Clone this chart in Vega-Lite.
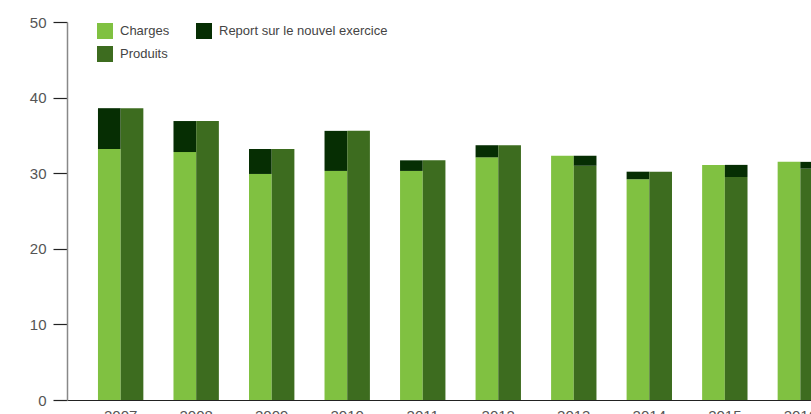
{
  "$schema": "https://vega.github.io/schema/vega-lite/v6.json",
  "autosize": "none",
  "width": 744,
  "height": 378,
  "padding": {"left": 67, "top": 22, "right": 0, "bottom": 14},
  "background": "white",
  "config": {
    "font": "Liberation Sans, Arial, sans-serif",
    "view": {"stroke": null}
  },
  "data": {
    "values": [
      {"year": "2007", "bar": "Charges", "serie": "Charges", "value": 33.2, "ord": 1},
      {"year": "2007", "bar": "Charges", "serie": "Report sur le nouvel exercice", "value": 5.4, "ord": 2},
      {"year": "2007", "bar": "Produits", "serie": "Produits", "value": 38.6, "ord": 1},
      {"year": "2008", "bar": "Charges", "serie": "Charges", "value": 32.8, "ord": 1},
      {"year": "2008", "bar": "Charges", "serie": "Report sur le nouvel exercice", "value": 4.1, "ord": 2},
      {"year": "2008", "bar": "Produits", "serie": "Produits", "value": 36.9, "ord": 1},
      {"year": "2009", "bar": "Charges", "serie": "Charges", "value": 29.9, "ord": 1},
      {"year": "2009", "bar": "Charges", "serie": "Report sur le nouvel exercice", "value": 3.3, "ord": 2},
      {"year": "2009", "bar": "Produits", "serie": "Produits", "value": 33.2, "ord": 1},
      {"year": "2010", "bar": "Charges", "serie": "Charges", "value": 30.3, "ord": 1},
      {"year": "2010", "bar": "Charges", "serie": "Report sur le nouvel exercice", "value": 5.3, "ord": 2},
      {"year": "2010", "bar": "Produits", "serie": "Produits", "value": 35.6, "ord": 1},
      {"year": "2011", "bar": "Charges", "serie": "Charges", "value": 30.3, "ord": 1},
      {"year": "2011", "bar": "Charges", "serie": "Report sur le nouvel exercice", "value": 1.4, "ord": 2},
      {"year": "2011", "bar": "Produits", "serie": "Produits", "value": 31.7, "ord": 1},
      {"year": "2012", "bar": "Charges", "serie": "Charges", "value": 32.1, "ord": 1},
      {"year": "2012", "bar": "Charges", "serie": "Report sur le nouvel exercice", "value": 1.6, "ord": 2},
      {"year": "2012", "bar": "Produits", "serie": "Produits", "value": 33.7, "ord": 1},
      {"year": "2013", "bar": "Charges", "serie": "Charges", "value": 32.3, "ord": 1},
      {"year": "2013", "bar": "Produits", "serie": "Produits", "value": 31.0, "ord": 1},
      {"year": "2013", "bar": "Produits", "serie": "Report sur le nouvel exercice", "value": 1.3, "ord": 2},
      {"year": "2014", "bar": "Charges", "serie": "Charges", "value": 29.2, "ord": 1},
      {"year": "2014", "bar": "Charges", "serie": "Report sur le nouvel exercice", "value": 1.0, "ord": 2},
      {"year": "2014", "bar": "Produits", "serie": "Produits", "value": 30.2, "ord": 1},
      {"year": "2015", "bar": "Charges", "serie": "Charges", "value": 31.1, "ord": 1},
      {"year": "2015", "bar": "Produits", "serie": "Produits", "value": 29.5, "ord": 1},
      {"year": "2015", "bar": "Produits", "serie": "Report sur le nouvel exercice", "value": 1.6, "ord": 2},
      {"year": "2016", "bar": "Charges", "serie": "Charges", "value": 31.5, "ord": 1},
      {"year": "2016", "bar": "Produits", "serie": "Produits", "value": 30.6, "ord": 1},
      {"year": "2016", "bar": "Produits", "serie": "Report sur le nouvel exercice", "value": 0.9, "ord": 2}
    ]
  },
  "mark": {"type": "bar", "clip": true},
  "encoding": {
    "x": {
      "field": "year",
      "type": "nominal",
      "scale": {"range": [0, 787], "paddingInner": 0.399, "paddingOuter": 0.41},
      "axis": {
        "title": null,
        "labelAngle": 0,
        "ticks": false,
        "labelPadding": 8,
        "labelFontSize": 15,
        "labelColor": "#555555",
        "domainColor": "#222222",
        "domainWidth": 1.2
      }
    },
    "xOffset": {
      "field": "bar",
      "type": "nominal",
      "scale": {"paddingInner": 0, "paddingOuter": 0}
    },
    "y": {
      "field": "value",
      "type": "quantitative",
      "stack": "zero",
      "scale": {"domain": [0, 50], "nice": false},
      "axis": {
        "title": null,
        "values": [0, 10, 20, 30, 40, 50],
        "grid": false,
        "tickSize": 14,
        "tickColor": "#222222",
        "tickWidth": 1.2,
        "labelPadding": 7,
        "labelFontSize": 15,
        "labelColor": "#555555",
        "domainColor": "#888888",
        "domainWidth": 1.5
      }
    },
    "color": {
      "field": "serie",
      "type": "nominal",
      "scale": {
        "domain": ["Charges", "Produits", "Report sur le nouvel exercice"],
        "range": ["#80c141", "#3d6c1f", "#062e03"]
      },
      "legend": {
        "title": null,
        "orient": "none",
        "legendX": 30,
        "legendY": 1,
        "columns": 2,
        "symbolType": "square",
        "symbolSize": 256,
        "symbolStrokeWidth": 0,
        "symbolOpacity": 1,
        "labelFontSize": 13,
        "labelColor": "#444444",
        "labelOffset": 7,
        "labelLimit": 400,
        "rowPadding": 7,
        "columnPadding": 26
      }
    },
    "order": {"field": "ord", "type": "quantitative"}
  }
}
